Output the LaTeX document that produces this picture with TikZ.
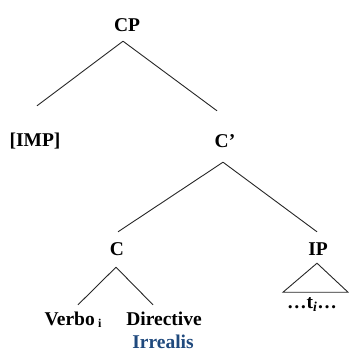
\documentclass[tikz,border=0pt]{standalone}
\usepackage{fontspec}
\setmainfont{Liberation Serif}
\definecolor{irrblue}{RGB}{31,73,125}

\begin{document}
\begin{tikzpicture}[
x=1pt, y=-1pt,
every node/.style={
    font=\fontsize{19.5}{22}\selectfont\bfseries,
    anchor=base,
    inner sep=0pt,
    text height=13pt,
    text depth=0pt
},
branch/.style={line width=0.9pt, black!85}
]
\useasboundingbox (0,0) rectangle (348,352);

%---------------- Labels ----------------
\node (cp)    at (127,31.5) {CP};
\node (imp)   at (35,147)   {[IMP]};
\node (cbar)  at (225,148)  {C’};
\node (c)     at (117,255)  {C};
\node (ip)    at (318,255)  {IP};
\node (verbo) at (73,325)   {Verbo\,{\fontsize{12}{12}\selectfont\raisebox{-2pt}{i}}};
\node (dir)   at (164,325)  {Directive};
\node (irr)   at (163,348.5) [text=irrblue] {Irrealis};
\node (trace) at (312,308)  {\dots t\textsubscript{\itshape i}\dots};

%---------------- Branches ----------------
\draw[branch] ([xshift=-4pt,yshift=-9.5pt]cp.south) -- ([xshift=2pt,yshift=28pt]imp.north);
\draw[branch] ([xshift=-4pt,yshift=-9.5pt]cp.south) -- ([xshift=-8pt,yshift=24pt]cbar.north);

\draw[branch] ([xshift=-2pt,yshift=-14pt]cbar.south) -- ([xshift=1pt,yshift=10pt]c.north);
\draw[branch] ([xshift=-2pt,yshift=-14pt]cbar.south) -- ([xshift=-1pt,yshift=10pt]ip.north);

\draw[branch] ([xshift=-1pt,yshift=-12pt]c.south) -- ([xshift=5pt,yshift=7pt]verbo.north);
\draw[branch] ([xshift=-1pt,yshift=-12pt]c.south) -- ([xshift=-11pt,yshift=7pt]dir.north);

% triangle over the trace
\draw[branch] ([xshift=-1pt,yshift=-8pt]ip.south) -- ++(-34,29) -- ++(65,0) -- cycle;

\end{tikzpicture}
\end{document}
